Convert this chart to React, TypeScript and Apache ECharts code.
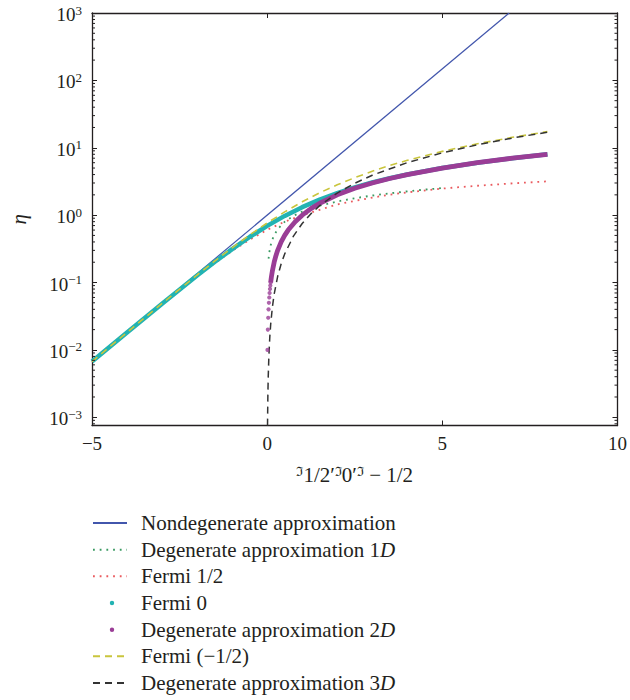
import React, { useEffect, useRef } from "react";
import * as echarts from "echarts";

// ---------- data ----------
const nondegX = [-5, 6.908];
const nondegY = [0.006738, 1000];

const deg1DX = [0.04, 0.06, 0.08, 0.1, 0.15, 0.2, 0.3, 0.5, 0.75, 1, 1.5, 2, 2.5, 3, 3.5, 4, 4.5, 5];
const deg1DY = [0.2257, 0.2764, 0.3192, 0.3568, 0.437, 0.5046, 0.618, 0.7979, 0.9772, 1.1284, 1.382, 1.5958, 1.7841, 1.9544, 2.111, 2.2568, 2.3937, 2.5231];

const fermiX = [-5, -4, -3, -2, -1.5, -1, -0.5, 0, 0.5, 1, 1.5, 2, 2.5, 3, 3.5, 4, 5, 6, 7, 8];
const fermiHalfY = [0.006706, 0.01808, 0.0481, 0.1237, 0.1933, 0.294, 0.4312, 0.6049, 0.8, 0.995, 1.2, 1.44, 1.63, 1.82, 2.01, 2.18, 2.48, 2.73, 2.96, 3.17];
const fermiZeroY = [0.00672, 0.01815, 0.04859, 0.1269, 0.2014, 0.3133, 0.4741, 0.6931, 0.9741, 1.3133, 1.7014, 2.1269, 2.5789, 3.0486, 3.5297, 4.0181, 5.0067, 6.0025, 7.0009, 8.0003];
const fermiMinusHalfY = [0.006722, 0.018198, 0.048934, 0.12929, 0.2074, 0.3278, 0.5075, 0.7651, 1.116, 1.5756, 2.15, 2.8193, 3.6, 4.4881, 5.455, 6.5115, 8.84, 11.44, 14.29, 17.36];

const deg2DDotsX = [0.01, 0.02, 0.03, 0.04, 0.05, 0.06, 0.07, 0.08, 0.09, 0.1];
const deg2DDotsY = [0.01, 0.02, 0.03, 0.04, 0.05, 0.06, 0.07, 0.08, 0.09, 0.1];
const deg2DX = [0.1, 0.12, 0.15, 0.2, 0.25, 0.3, 0.4, 0.5, 0.6, 0.8, 1, 1.25, 1.5, 2, 2.5, 3, 3.5, 4, 5, 6, 7, 8];
const deg2DY = [0.1, 0.12, 0.15, 0.2, 0.25, 0.3, 0.4, 0.5, 0.6, 0.8, 1, 1.25, 1.5, 2, 2.5, 3, 3.5, 4, 5, 6, 7, 8];

const deg3DX = [0.01, 0.02, 0.03, 0.05, 0.075, 0.1, 0.15, 0.2, 0.3, 0.4, 0.5, 0.75, 1, 1.25, 1.5, 2, 2.5, 3, 4, 5, 6, 7, 8];
const deg3DY = [0.000752, 0.002128, 0.003909, 0.008411, 0.01545, 0.02379, 0.0437, 0.06729, 0.1236, 0.1903, 0.266, 0.4886, 0.7523, 1.0513, 1.382, 2.128, 2.973, 3.909, 6.018, 8.41, 11.056, 13.932, 17.022];

const minorTickValues = [
  0.0008, 0.0009,
  0.002, 0.003, 0.004, 0.005, 0.006, 0.007, 0.008, 0.009,
  0.02, 0.03, 0.04, 0.05, 0.06, 0.07, 0.08, 0.09,
  0.2, 0.3, 0.4, 0.5, 0.6, 0.7, 0.8, 0.9,
  2, 3, 4, 5, 6, 7, 8, 9,
  20, 30, 40, 50, 60, 70, 80, 90,
  200, 300, 400, 500, 600, 700, 800, 900,
];

const legendNames = [
  "Nondegenerate approximation",
  "Degenerate approximation 1D",
  "Fermi 1/2",
  "Fermi 0",
  "Degenerate approximation 2D",
  "Fermi (\u22121/2)",
  "Degenerate approximation 3D",
];

const X_MIN = -5;
const X_MAX = 10;
const Y_MIN = 0.000755;
const Y_MAX = 1000;

const FONT = "Liberation Serif, DejaVu Serif, serif";
const INK = "#231f20";

const COLORS = {
  blue: "#4256ac",
  green: "#3a9a62",
  red: "#ea5a5e",
  cyan: "#22b3b3",
  purple: "#9a3d96",
  yellow: "#c9c53d",
  black: "#333333",
};

const zip = (xs: number[], ys: number[]) => xs.map((x, i) => [x, ys[i]]);

const DOT_ICON =
  "path://M0,0L0.001,0M34,14L34.001,14M16.8,7A2.2,2.2,0,1,1,21.2,7A2.2,2.2,0,1,1,16.8,7Z";

export default function App() {
  const ref = useRef<HTMLDivElement>(null);

  useEffect(() => {
    if (!ref.current) return;
    const chart = echarts.init(ref.current, undefined, { renderer: "svg" });

    const logLabel = (v: number) => {
      const e = Math.log10(v);
      const r = Math.round(e);
      if (Math.abs(e - r) > 1e-6) return "";
      const exp = r < 0 ? "\u2212" + -r : String(r);
      return `{b|10}{s|${exp}}`;
    };

    const axisLine = { show: true, onZero: false, lineStyle: { color: INK, width: 1.3 } };

    const lineSeries = (
      name: string,
      data: number[][],
      color: string,
      width: number,
      type: any
    ) => ({
      name,
      type: "line",
      data,
      symbol: "none",
      showSymbol: false,
      smooth: false,
      lineStyle: { color, width, type, cap: "butt" },
      itemStyle: { color },
      emphasis: { disabled: true },
      z: 2,
    });

    const option: any = {
      animation: false,
      backgroundColor: "#ffffff",
      textStyle: { fontFamily: FONT },
      grid: { left: 92, right: 11, top: 13, bottom: 274.5, containLabel: false },
      xAxis: [
        {
          type: "value",
          min: X_MIN,
          max: X_MAX,
          interval: 5,
          position: "bottom",
          axisLine,
          axisTick: { show: true, inside: true, length: 5, lineStyle: { color: INK, width: 1 } },
          axisLabel: {
            fontSize: 19,
            color: INK,
            fontFamily: FONT,
            margin: 8,
            formatter: (v: number) => (v < 0 ? "\u2212" + Math.abs(v) : String(v)),
          },
          splitLine: { show: false },
          name: "{s|\u2111}1/2\u2032{s|\u2111}0\u2032{s|\u2111} \u2212 1/2",
          nameLocation: "middle",
          nameGap: 39,
          nameTextStyle: {
            fontSize: 21,
            color: INK,
            fontFamily: FONT,
            rich: {
              s: { fontSize: 13, verticalAlign: "top", lineHeight: 13, color: INK, fontFamily: FONT },
            },
          },
        },
        {
          type: "value",
          min: X_MIN,
          max: X_MAX,
          interval: 5,
          position: "top",
          axisLine,
          axisTick: { show: true, inside: true, length: 5, lineStyle: { color: INK, width: 1 } },
          axisLabel: { show: false },
          splitLine: { show: false },
        },
      ],
      yAxis: [
        {
          type: "log",
          logBase: 10,
          min: Y_MIN,
          max: Y_MAX,
          position: "left",
          axisLine,
          axisTick: { show: true, inside: true, length: 5, lineStyle: { color: INK, width: 1 } },
          axisLabel: {
            color: INK,
            margin: 10,
            formatter: logLabel,
            rich: {
              b: { fontSize: 19, lineHeight: 19, padding: [3, 0, 0, 0], color: INK, fontFamily: FONT },
              s: { fontSize: 13, lineHeight: 12, verticalAlign: "top", color: INK, fontFamily: FONT },
            },
          },
          splitLine: { show: false },
          minorTick: { show: false },
          name: "\u03b7",
          nameLocation: "middle",
          nameRotate: 90,
          nameGap: 63,
          nameTextStyle: { fontSize: 21, fontStyle: "italic", color: INK, fontFamily: FONT },
        },
        {
          type: "log",
          logBase: 10,
          min: Y_MIN,
          max: Y_MAX,
          position: "right",
          axisLine,
          axisTick: { show: true, inside: true, length: 5, lineStyle: { color: INK, width: 1 } },
          axisLabel: { show: false },
          splitLine: { show: false },
        },
      ],
      legend: {
        orient: "vertical",
        left: 92,
        top: 512.5,
        itemWidth: 34,
        itemHeight: 14,
        itemGap: 5.67,
        selectedMode: false,
        padding: 0,
        itemStyle: { opacity: 0 },
        data: [
          { name: legendNames[0] },
          { name: legendNames[1] },
          { name: legendNames[2] },
          { name: legendNames[3], icon: DOT_ICON, itemStyle: { color: COLORS.cyan, borderWidth: 0, opacity: 1 } },
          { name: legendNames[4], icon: DOT_ICON, itemStyle: { color: COLORS.purple, borderWidth: 0, opacity: 1 } },
          { name: legendNames[5] },
          { name: legendNames[6] },
        ],
        formatter: (name: string) =>
          name.endsWith("D")
            ? `{r|${name.slice(0, -1)}}{i|D}`
            : `{r|${name}}`,
        textStyle: {
          color: INK,
          fontFamily: FONT,
          fontSize: 21,
          rich: {
            r: { fontSize: 21, lineHeight: 21, padding: [0, 0, 0, 9], color: INK, fontFamily: FONT },
            i: { fontSize: 21, lineHeight: 21, fontStyle: "italic", color: INK, fontFamily: FONT },
          },
        },
      },
      series: [
        lineSeries(legendNames[0], zip(nondegX, nondegY), COLORS.blue, 1.2, "solid"),
        lineSeries(legendNames[1], zip(deg1DX, deg1DY), COLORS.green, 1.8, [1.8, 4.9]),
        lineSeries(legendNames[2], zip(fermiX, fermiHalfY), COLORS.red, 1.8, [1.8, 4.9]),
        lineSeries(legendNames[3], zip(fermiX, fermiZeroY), COLORS.cyan, 4.5, "solid"),
        lineSeries(legendNames[4], zip(deg2DX, deg2DY), COLORS.purple, 4.8, "solid"),
        {
          name: legendNames[4],
          type: "scatter",
          data: zip(deg2DDotsX, deg2DDotsY),
          symbol: "circle",
          symbolSize: 4.2,
          itemStyle: { color: COLORS.purple },
          emphasis: { disabled: true },
          z: 2,
        },
        lineSeries(legendNames[5], zip(fermiX, fermiMinusHalfY), COLORS.yellow, 1.6, [7, 5]),
        lineSeries(legendNames[6], zip(deg3DX, deg3DY), COLORS.black, 1.5, [7, 5]),
        {
          name: "minorTicks",
          type: "custom",
          silent: true,
          clip: false,
          z: 5,
          data: minorTickValues.map((v) => [X_MIN, v]),
          encode: { x: 0, y: 1 },
          renderItem: (_params: any, api: any) => {
            const v = api.value(1);
            const l = api.coord([X_MIN, v]);
            const r = api.coord([X_MAX, v]);
            return {
              type: "group",
              children: [
                {
                  type: "line",
                  shape: { x1: l[0], y1: l[1], x2: l[0] + 3, y2: l[1] },
                  style: { stroke: INK, lineWidth: 1 },
                },
                {
                  type: "line",
                  shape: { x1: r[0] - 3, y1: r[1], x2: r[0], y2: r[1] },
                  style: { stroke: INK, lineWidth: 1 },
                },
              ],
            };
          },
        },
      ],
    };

    chart.setOption(option);
    return () => chart.dispose();
  }, []);

  return (
    <div
      ref={ref}
      style={{ position: "fixed", left: 0, top: 0, width: 630, height: 700, background: "#fff" }}
    />
  );
}
